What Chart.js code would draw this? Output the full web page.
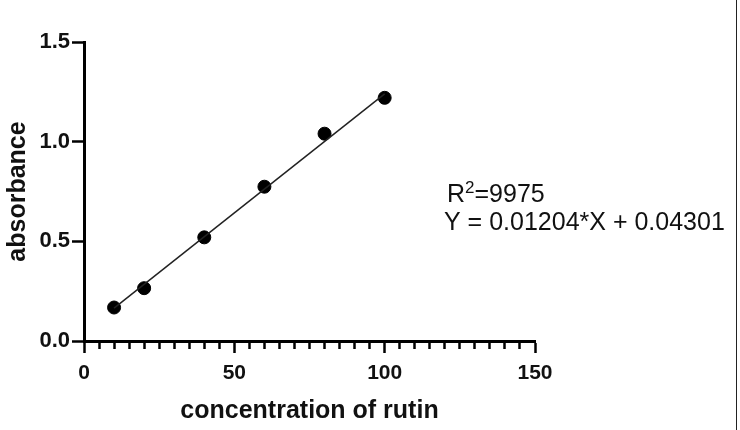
<!DOCTYPE html>
<html lang="en">
<head>
    <meta charset="UTF-8">
    <title>concentration of rutin</title>
    <script src="https://cdn.jsdelivr.net/npm/chart.js"></script>
    <style>
        body { margin: 0; background: #fff; }
        #wrap { position: relative; width: 740px; height: 430px; }
        #edge { position: absolute; left: 736px; top: 0; width: 1px; height: 430px; background: #222; }
    </style>
</head>
<body>

    <div id="wrap">
        <canvas id="myChart" width="740" height="430"></canvas>
        <div id="edge"></div>
    </div>

    <script>
        // standard points
        const concentration = [10, 20, 40, 60, 80, 100];
        const absorbance = [0.168, 0.265, 0.52, 0.774, 1.04, 1.22];

        // ends of the regression line
        const fitX = [10, 100];
        const fitY = [0.165, 1.24];

        const r2Text = "=9975";
        const equation = "Y = 0.01204*X + 0.04301";

        const font = '"Liberation Sans", Arial, sans-serif';

        // text to the right of the plot
        const equationText = {
            id: "equationText",
            afterDraw(chart) {
                const ctx = chart.ctx;
                ctx.save();
                ctx.fillStyle = "#111";
                ctx.textBaseline = "alphabetic";
                ctx.textAlign = "left";
                ctx.font = "25px " + font;
                let x = 447;
                ctx.fillText("R", x, 202);
                x += ctx.measureText("R").width;
                ctx.font = "17px " + font;
                ctx.fillText("2", x, 193);
                x += ctx.measureText("2").width;
                ctx.font = "25px " + font;
                ctx.fillText(r2Text, x, 202);
                ctx.fillText(equation, 444, 230);
                ctx.restore();
            }
        };

        new Chart(document.getElementById("myChart"), {
            type: "scatter",
            data: {
                datasets: [
                    {
                        label: "fit",
                        type: "line",
                        data: fitX.map((x, i) => ({ x: x, y: fitY[i] })),
                        borderColor: "#222",
                        borderWidth: 1.5,
                        pointRadius: 0,
                        fill: false
                    },
                    {
                        label: "rutin",
                        data: concentration.map((x, i) => ({ x: x, y: absorbance[i] })),
                        backgroundColor: "#000",
                        borderColor: "#000",
                        pointRadius: 6.5,
                        pointHoverRadius: 6.5
                    }
                ]
            },
            options: {
                responsive: false,
                animation: false,
                layout: { padding: { left: 0, top: 42, right: 205, bottom: 0 } },
                plugins: {
                    legend: { display: false },
                    tooltip: { enabled: false }
                },
                scales: {
                    x: {
                        type: "linear",
                        min: 0,
                        max: 150,
                        afterFit: s => { s.height = 89; },
                        border: { color: "#000", width: 3 },
                        grid: {
                            drawOnChartArea: false,
                            tickLength: 12,
                            tickColor: "#000",
                            tickWidth: 2.5,
                            tickBorderDash: c => (c.tick && c.tick.value % 50 === 0) ? [] : [6, 40]
                        },
                        ticks: {
                            stepSize: 5,
                            autoSkip: false,
                            maxRotation: 0,
                            padding: 8,
                            color: "#111",
                            font: { family: font, size: 21, weight: "bold" },
                            callback: v => v % 50 === 0 ? v : ""
                        },
                        title: {
                            display: true,
                            text: "concentration of rutin",
                            color: "#111",
                            padding: { top: 2, bottom: 4 },
                            font: { family: font, size: 25, weight: "bold" }
                        }
                    },
                    y: {
                        min: 0,
                        max: 1.5,
                        afterFit: s => { s.width = 84; },
                        border: { color: "#000", width: 3 },
                        grid: {
                            drawOnChartArea: false,
                            tickLength: 12,
                            tickColor: "#000",
                            tickWidth: 2.5
                        },
                        ticks: {
                            stepSize: 0.5,
                            padding: 2,
                            color: "#111",
                            font: { family: font, size: 22, weight: "bold" },
                            callback: v => v.toFixed(1)
                        },
                        title: {
                            display: true,
                            text: "absorbance",
                            color: "#111",
                            padding: { top: 3, bottom: 4 },
                            font: { family: font, size: 25, weight: "bold" }
                        }
                    }
                }
            },
            plugins: [equationText]
        });
    </script>

</body>
</html>
